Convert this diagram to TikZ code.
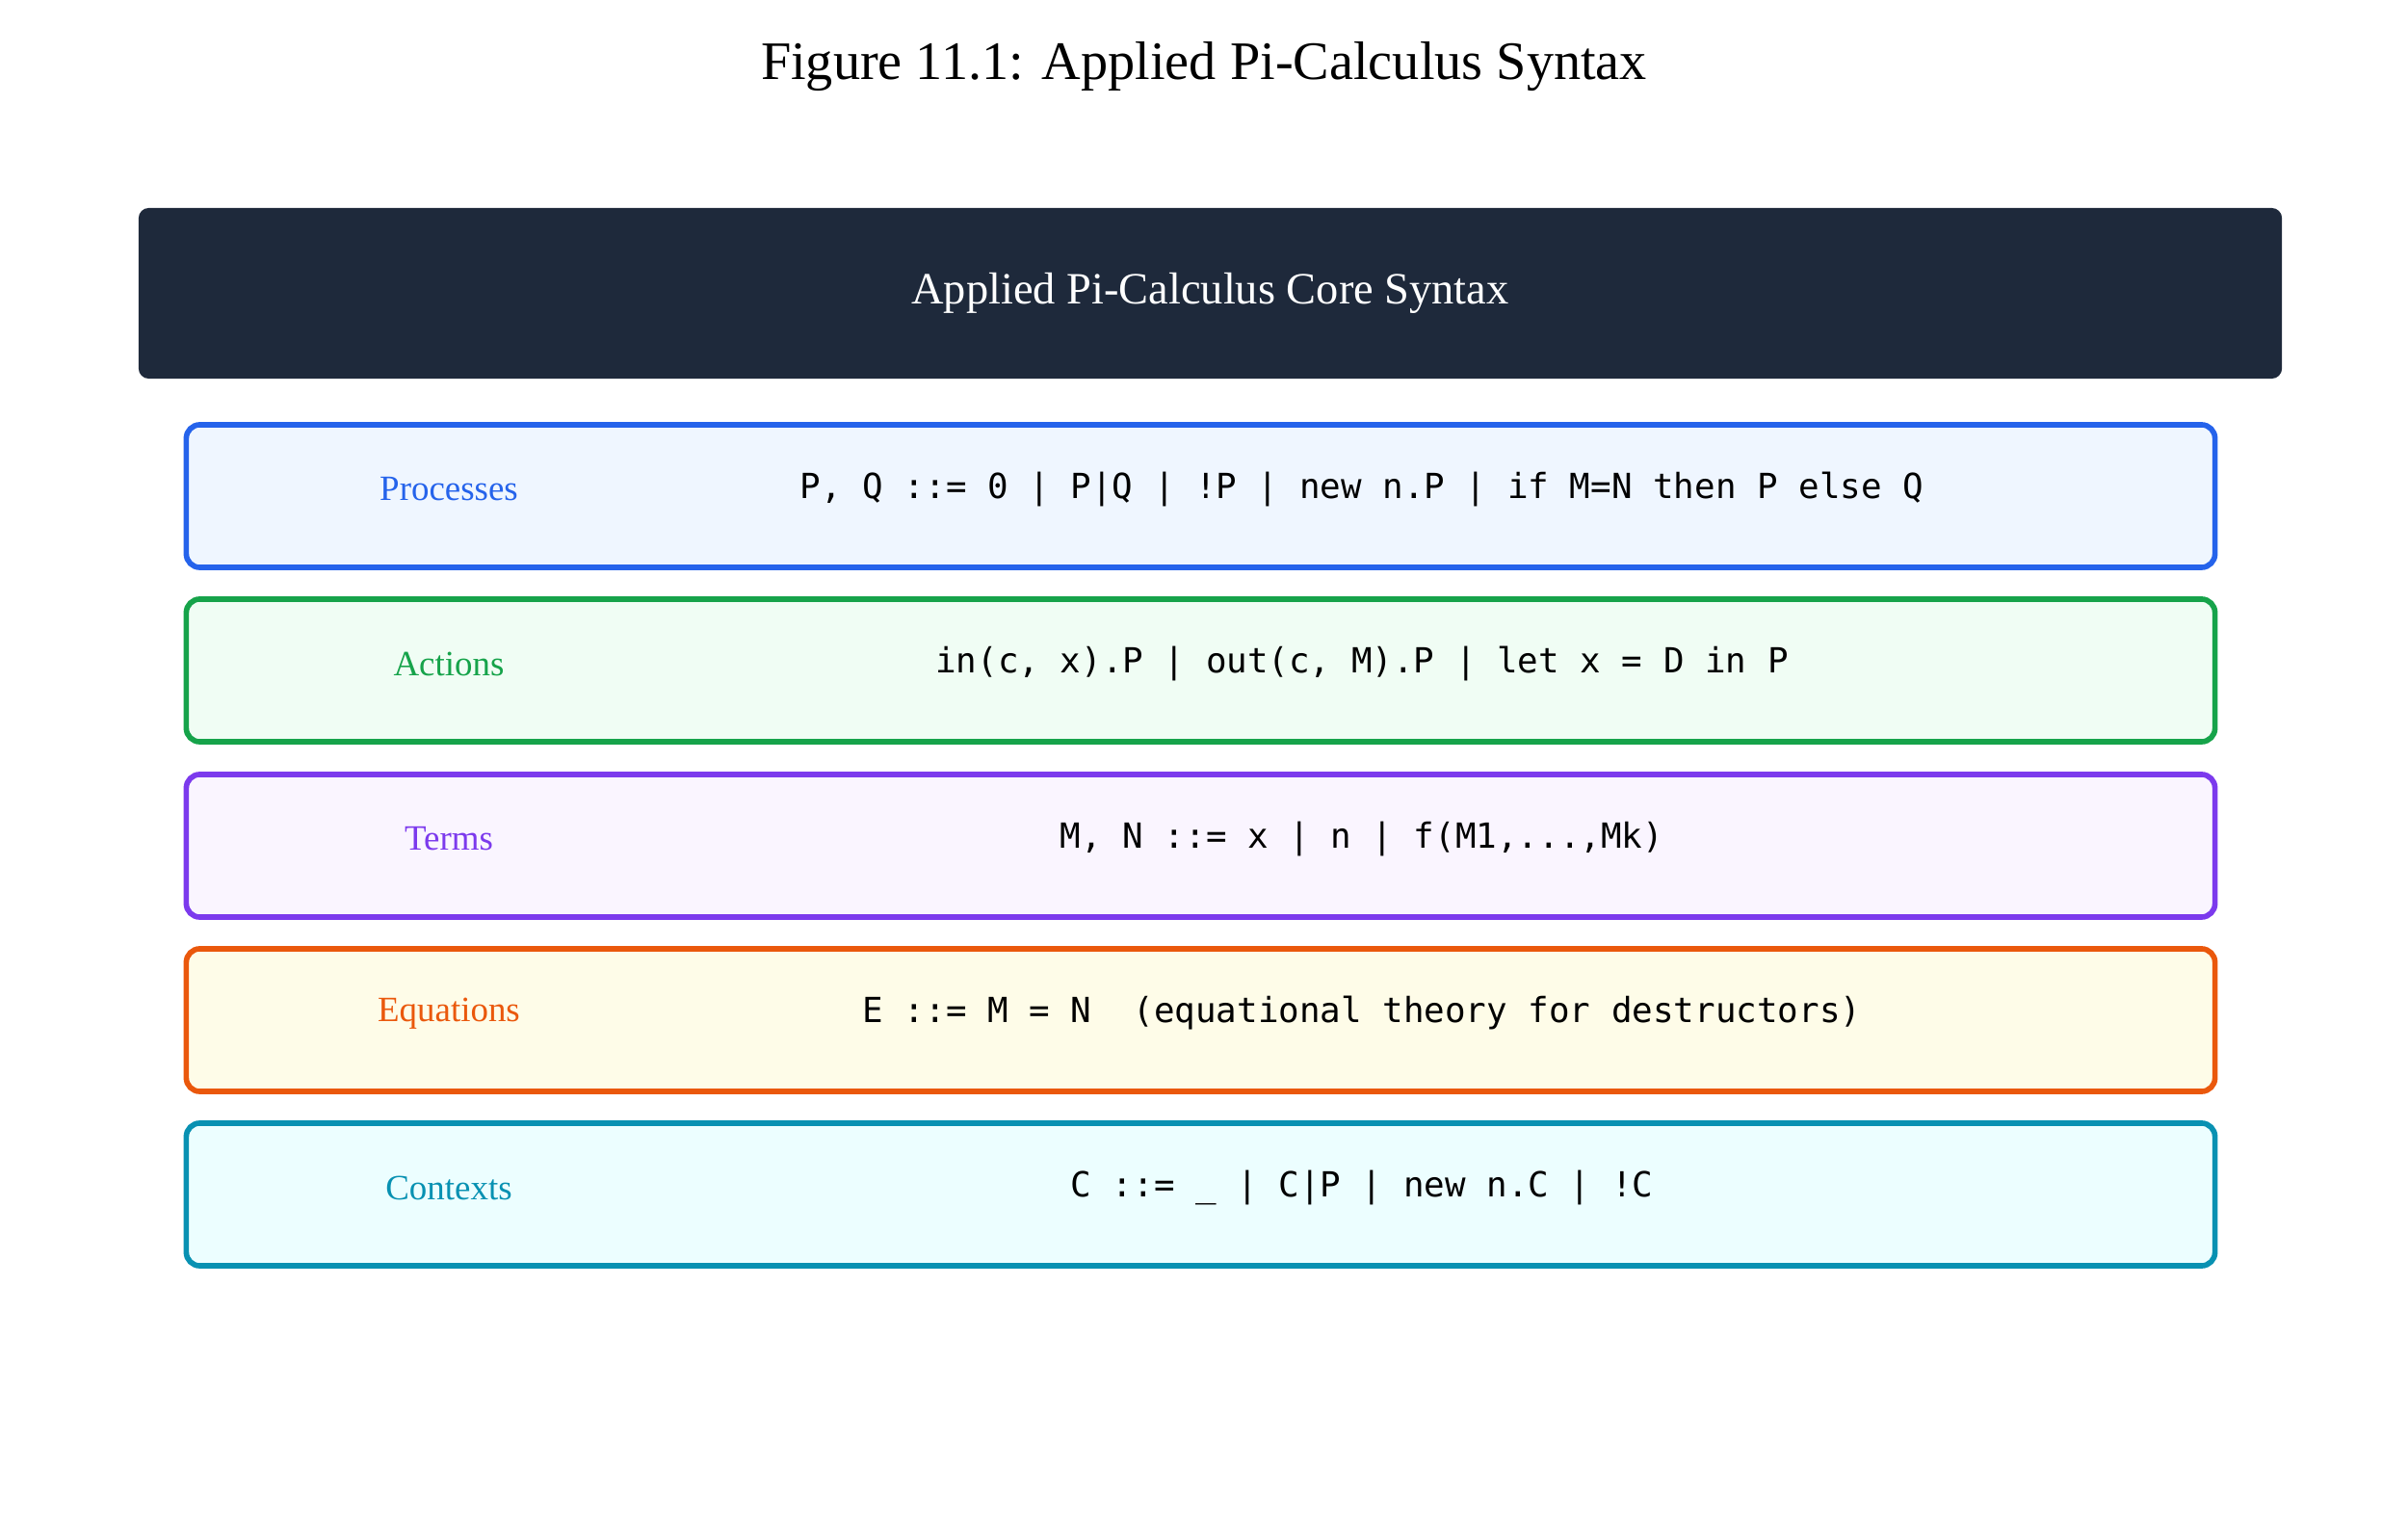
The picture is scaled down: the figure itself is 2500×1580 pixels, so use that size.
\documentclass[tikz,border=0pt]{standalone}
\usepackage{fontspec}
\setmainfont{Liberation Serif}
\setmonofont{DejaVu Sans Mono}
\usetikzlibrary{positioning}
\definecolor{hdr}{HTML}{1E293B}
\definecolor{cblue}{HTML}{2563EB}\definecolor{fblue}{HTML}{EFF6FF}
\definecolor{cgreen}{HTML}{16A34A}\definecolor{fgreen}{HTML}{F0FDF4}
\definecolor{cpurple}{HTML}{7C3AED}\definecolor{fpurple}{HTML}{FAF5FF}
\definecolor{corange}{HTML}{EA580C}\definecolor{forange}{HTML}{FEFCE8}
\definecolor{ccyan}{HTML}{0891B2}\definecolor{fcyan}{HTML}{ECFEFF}
\tikzset{
  row/.style={draw=#1, line width=1.6pt, rounded corners=4pt, minimum width=21.05cm, minimum height=1.48cm, inner sep=0pt, outer sep=0pt},
  lbl/.style={text=#1, font=\fontsize{10.5}{13}\selectfont},
  code/.style={font=\ttfamily\fontsize{10.2}{12}\selectfont}
}
\begin{document}
\begin{tikzpicture}[x=0.01cm,y=-0.01cm]
    \useasboundingbox (0,0) rectangle (2500,1580);

    \node (title) at (1250,69) {\fontsize{16}{20}\selectfont Figure 11.1: Applied Pi-Calculus Syntax};
    \node[fill=hdr, rounded corners=3pt, minimum width=22.24cm, minimum height=1.77cm, outer sep=0pt] (head) at (1256.5,304.5)
        {\textcolor{white}{\fontsize{13.2}{16}\selectfont Applied Pi-Calculus Core Syntax}};

    \node[row=cblue, fill=fblue] (proc) at (1246.5,515) {};
    \node[lbl=cblue] (proclbl) at (466,508) {Processes};
    \node[code] (proccode) at (1414,508) {P, Q ::= 0 | P|Q | !P | new n.P | if M=N then P else Q};

    \node[row=cgreen, fill=fgreen] (act) at (1246.5,696) {};
    \node[lbl=cgreen] (actlbl) at (466,689) {Actions};
    \node[code] (actcode) at (1414,689) {in(c, x).P | out(c, M).P | let x = D in P};

    \node[row=cpurple, fill=fpurple] (term) at (1246.5,878) {};
    \node[lbl=cpurple] (termlbl) at (466,871) {Terms};
    \node[code] (termcode) at (1414,871) {M, N ::= x | n | f(M1,...,Mk)};

    \node[row=corange, fill=forange] (eq) at (1246.5,1059) {};
    \node[lbl=corange] (eqlbl) at (466,1052) {Equations};
    \node[code] (eqcode) at (1414,1052) {E ::= M = N\ \ (equational theory for destructors)};

    \node[row=ccyan, fill=fcyan] (ctx) at (1246.5,1240) {};
    \node[lbl=ccyan] (ctxlbl) at (466,1233) {Contexts};
    \node[code] (ctxcode) at (1414,1233) {C ::= \_ | C|P | new n.C | !C};

\end{tikzpicture}
\end{document}
